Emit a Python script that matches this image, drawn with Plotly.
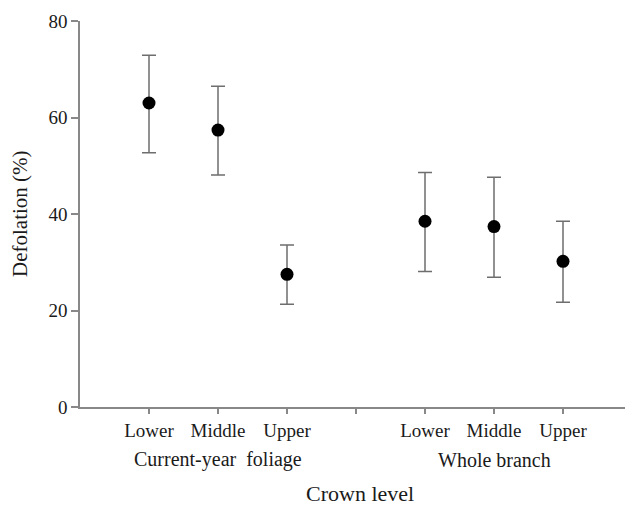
import plotly.graph_objects as go

positions = [1, 2, 3, 5, 6, 7]
levels = ["Lower", "Middle", "Upper", "Lower", "Middle", "Upper"]
groups = ["Current-year  foliage", "Whole branch"]
means = [63.0, 57.4, 27.5, 38.5, 37.4, 30.2]
err_plus = [9.9, 9.1, 6.1, 10.1, 10.2, 8.3]
err_minus = [10.3, 9.3, 6.2, 10.4, 10.5, 8.5]
y_ticks = [0, 20, 40, 60, 80]

FONT = "Liberation Serif, Times New Roman, serif"
TXT = "#1a1a1a"

fig = go.Figure()
fig.add_trace(go.Scatter(
    x=positions, y=means, mode="markers",
    marker=dict(color="black", size=13),
    error_y=dict(type="data", symmetric=False, array=err_plus, arrayminus=err_minus,
                 color="#6e6e6e", thickness=1.5, width=7),
    showlegend=False,
))

tickvals = list(range(1, 9))
ticktext = []
for v in tickvals:
    ticktext.append(levels[positions.index(v)] if v in positions else "")

# page body has an 8px margin, so the figure is sized/margined to compensate
fig.update_layout(
    width=625, height=502,
    margin=dict(l=72, r=1, t=13, b=103),
    paper_bgcolor="white", plot_bgcolor="white",
    font=dict(family=FONT, size=19, color=TXT),
    xaxis=dict(range=[0, 8], tickvals=tickvals, ticktext=ticktext, automargin=False,
               showgrid=False, zeroline=False, showline=True, linecolor="#888888", linewidth=1.5,
               ticks="outside", ticklen=5, tickcolor="#888888", tickwidth=1.5,
               tickfont=dict(family=FONT, size=19, color=TXT)),
    yaxis=dict(range=[0, 80], tickvals=y_ticks, showgrid=False, zeroline=False, automargin=False,
               showline=True, linecolor="#888888", linewidth=1.5,
               ticks="outside", ticklen=7, tickcolor="#888888", tickwidth=1.5,
               tickfont=dict(family=FONT, size=19, color=TXT)),
)

fig.add_annotation(x=-60 / 552, y=0.5, xref="paper", yref="paper", text="Defolation (%)",
                   textangle=-90, showarrow=False, xanchor="center", yanchor="middle",
                   font=dict(family=FONT, size=21, color=TXT))

group_centers = [sum(positions[0:3]) / 3, sum(positions[3:6]) / 3]
for g, c in zip(groups, group_centers):
    fig.add_annotation(x=c, y=-0.137, xref="x", yref="paper", text=g, showarrow=False,
                       font=dict(family=FONT, size=20, color=TXT), yanchor="middle")

fig.add_annotation(x=0.507, y=-0.223, xref="paper", yref="paper", text="Crown level",
                   showarrow=False, font=dict(family=FONT, size=22, color=TXT),
                   yanchor="middle")

fig.write_html("out.html")
